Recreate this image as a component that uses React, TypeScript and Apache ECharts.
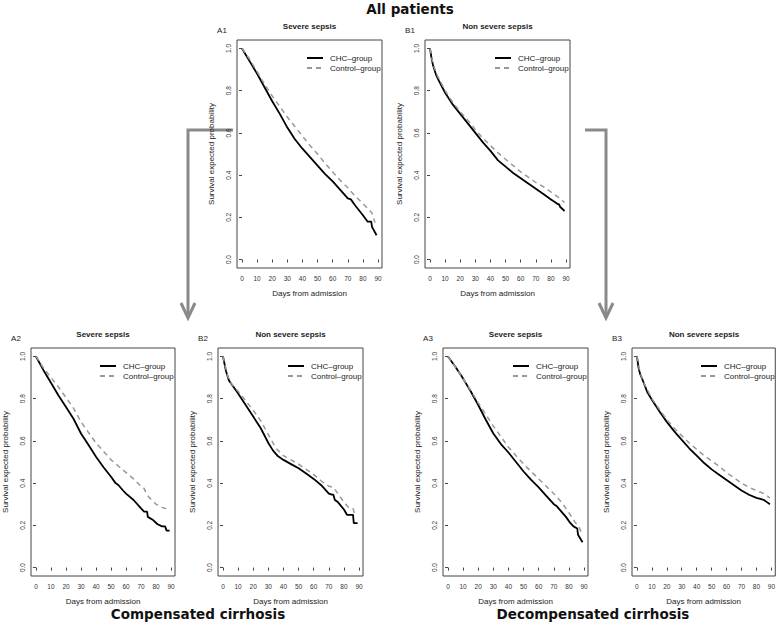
import React, { useEffect, useRef } from "react";
import * as echarts from "echarts";

// ---------- Data ----------
const xTicks = [0, 10, 20, 30, 40, 50, 60, 70, 80, 90];
const yTicks = [0, 0.2, 0.4, 0.6, 0.8, 1.0];
const seriesNames = ["CHC–group", "Control–group"];

// A1: All patients, severe sepsis
const a1ChcDays = [0, 5, 10, 15, 20, 25, 30, 35, 40, 45, 50, 55, 60, 65, 70, 72, 75, 80, 83, 85.5, 86, 89];
const a1ChcVals = [1.0, 0.94, 0.88, 0.815, 0.75, 0.69, 0.625, 0.57, 0.525, 0.485, 0.445, 0.405, 0.37, 0.33, 0.29, 0.285, 0.255, 0.21, 0.18, 0.18, 0.155, 0.115];
const a1CtrlDays = [0, 5, 10, 15, 20, 25, 30, 35, 40, 45, 50, 55, 60, 65, 70, 75, 80, 84, 86, 88];
const a1CtrlVals = [1.0, 0.95, 0.89, 0.83, 0.775, 0.725, 0.675, 0.63, 0.585, 0.54, 0.5, 0.455, 0.415, 0.375, 0.34, 0.3, 0.265, 0.235, 0.22, 0.175];

// B1: All patients, non severe sepsis
const b1ChcDays = [0, 1, 2, 4, 6, 10, 15, 20, 25, 30, 35, 40, 45, 50, 55, 60, 65, 70, 75, 80, 84, 85.5, 86, 89];
const b1ChcVals = [1.0, 0.955, 0.92, 0.875, 0.845, 0.79, 0.735, 0.69, 0.645, 0.6, 0.555, 0.515, 0.47, 0.44, 0.41, 0.385, 0.36, 0.335, 0.31, 0.285, 0.265, 0.26, 0.25, 0.23];
const b1CtrlDays = [0, 2, 5, 10, 15, 20, 25, 30, 35, 40, 45, 50, 55, 60, 65, 70, 75, 80, 85, 89];
const b1CtrlVals = [1.0, 0.925, 0.87, 0.8, 0.745, 0.7, 0.66, 0.615, 0.575, 0.54, 0.505, 0.475, 0.445, 0.415, 0.39, 0.365, 0.345, 0.32, 0.295, 0.27];

// A2: Compensated cirrhosis, severe sepsis
const a2ChcDays = [0, 5, 10, 15, 20, 25, 30, 35, 40, 45, 50, 53, 55, 58, 60, 65, 70, 72, 74, 74.5, 78, 81, 84, 86, 87, 89];
const a2ChcVals = [1.0, 0.935, 0.875, 0.815, 0.76, 0.705, 0.635, 0.58, 0.525, 0.475, 0.43, 0.4, 0.39, 0.365, 0.35, 0.32, 0.28, 0.265, 0.265, 0.24, 0.225, 0.205, 0.195, 0.195, 0.175, 0.175];
const a2CtrlDays = [0, 5, 10, 15, 20, 25, 30, 35, 40, 45, 50, 55, 60, 65, 70, 72, 73, 75, 80, 84, 88];
const a2CtrlVals = [1.0, 0.945, 0.9, 0.855, 0.805, 0.755, 0.69, 0.64, 0.59, 0.55, 0.51, 0.48, 0.45, 0.42, 0.385, 0.375, 0.36, 0.335, 0.3, 0.285, 0.275];

// B2: Compensated cirrhosis, non severe sepsis
const b2ChcDays = [0, 2, 4, 7, 10, 15, 20, 25, 30, 33, 36, 40, 45, 50, 55, 60, 65, 70, 72, 73, 74, 76, 80, 82, 86, 86.5, 89];
const b2ChcVals = [1.0, 0.93, 0.885, 0.855, 0.825, 0.77, 0.715, 0.66, 0.59, 0.555, 0.53, 0.51, 0.49, 0.47, 0.445, 0.42, 0.39, 0.35, 0.345, 0.345, 0.32, 0.31, 0.275, 0.25, 0.25, 0.21, 0.21];
const b2CtrlDays = [0, 3, 5, 10, 15, 20, 25, 30, 35, 40, 45, 50, 55, 60, 65, 70, 73, 76, 80, 83, 86, 87];
const b2CtrlVals = [1.0, 0.91, 0.875, 0.835, 0.79, 0.745, 0.695, 0.63, 0.565, 0.53, 0.51, 0.49, 0.465, 0.44, 0.41, 0.385, 0.38, 0.35, 0.31, 0.285, 0.28, 0.255];

// A3: Decompensated cirrhosis, severe sepsis
const a3ChcDays = [0, 5, 10, 15, 20, 25, 30, 35, 40, 45, 50, 55, 60, 65, 70, 72, 75, 78, 81, 83, 85.5, 86, 89];
const a3ChcVals = [1.0, 0.95, 0.895, 0.835, 0.77, 0.7, 0.635, 0.585, 0.545, 0.5, 0.455, 0.415, 0.38, 0.34, 0.3, 0.29, 0.265, 0.24, 0.21, 0.195, 0.185, 0.155, 0.12];
const a3CtrlDays = [0, 5, 10, 15, 20, 25, 30, 35, 40, 45, 50, 55, 60, 65, 70, 75, 80, 84, 86, 88, 89];
const a3CtrlVals = [1.0, 0.95, 0.895, 0.84, 0.78, 0.725, 0.67, 0.62, 0.57, 0.53, 0.49, 0.455, 0.42, 0.385, 0.35, 0.31, 0.26, 0.215, 0.2, 0.17, 0.16];

// B3: Decompensated cirrhosis, non severe sepsis
const b3ChcDays = [0, 1, 2, 4, 7, 10, 15, 20, 25, 30, 35, 40, 45, 50, 55, 60, 65, 70, 75, 80, 85, 87, 89];
const b3ChcVals = [1.0, 0.95, 0.92, 0.885, 0.83, 0.795, 0.74, 0.69, 0.645, 0.605, 0.565, 0.53, 0.495, 0.465, 0.44, 0.415, 0.39, 0.365, 0.345, 0.33, 0.32, 0.31, 0.3];
const b3CtrlDays = [0, 2, 5, 10, 15, 20, 25, 30, 35, 40, 45, 50, 55, 60, 65, 70, 75, 80, 85, 89];
const b3CtrlVals = [1.0, 0.925, 0.87, 0.8, 0.75, 0.7, 0.66, 0.625, 0.59, 0.56, 0.53, 0.505, 0.48, 0.45, 0.425, 0.4, 0.38, 0.365, 0.35, 0.33];

// ---------- Layout ----------
const panels = [
  { tag: "A1", title: "Severe sepsis", left: 237, top: 40, width: 145, chc: [a1ChcDays, a1ChcVals], ctrl: [a1CtrlDays, a1CtrlVals] },
  { tag: "B1", title: "Non severe sepsis", left: 425, top: 40, width: 145, chc: [b1ChcDays, b1ChcVals], ctrl: [b1CtrlDays, b1CtrlVals] },
  { tag: "A2", title: "Severe sepsis", left: 31, top: 348, width: 144, chc: [a2ChcDays, a2ChcVals], ctrl: [a2CtrlDays, a2CtrlVals] },
  { tag: "B2", title: "Non severe sepsis", left: 218, top: 348, width: 145, chc: [b2ChcDays, b2ChcVals], ctrl: [b2CtrlDays, b2CtrlVals] },
  { tag: "A3", title: "Severe sepsis", left: 443, top: 348, width: 145, chc: [a3ChcDays, a3ChcVals], ctrl: [a3CtrlDays, a3CtrlVals] },
  { tag: "B3", title: "Non severe sepsis", left: 632, top: 348, width: 144, chc: [b3ChcDays, b3ChcVals], ctrl: [b3CtrlDays, b3CtrlVals] },
];
const PANEL_H = 228;
const SANS = "'Liberation Sans', Arial, Helvetica, sans-serif";
const BOLD_FONT = "'DejaVu Sans', Verdana, sans-serif";

const zip = (xs: number[], ys: number[]) => xs.map((x, i) => [x, ys[i]]);

export default function App() {
  const ref = useRef<HTMLDivElement>(null);

  useEffect(() => {
    document.body.style.margin = "0";
    if (!ref.current) return;
    const chart = echarts.init(ref.current, undefined, { renderer: "svg" });

    const grid: any[] = [];
    const xAxis: any[] = [];
    const yAxis: any[] = [];
    const series: any[] = [];
    const legend: any[] = [];
    const graphic: any[] = [];

    panels.forEach((p, i) => {
      grid.push({
        left: p.left,
        top: p.top,
        width: p.width,
        height: PANEL_H,
        show: true,
        borderColor: "#444",
        borderWidth: 1,
        backgroundColor: "transparent",
        containLabel: false,
      });
      xAxis.push({
        gridIndex: i,
        type: "value",
        min: -3.3,
        max: 92.6,
        splitLine: { show: false },
        axisLine: { show: false },
        axisTick: { show: true, length: 3, customValues: xTicks, lineStyle: { color: "#444" } },
        axisLabel: { customValues: xTicks, fontSize: 6.5, margin: 7, color: "#333", fontFamily: SANS },
        name: "Days from admission",
        nameLocation: "middle",
        nameGap: 21,
        nameTextStyle: { fontSize: 8, color: "#222", fontFamily: SANS },
      });
      yAxis.push({
        gridIndex: i,
        type: "value",
        min: -0.04,
        max: 1.04,
        splitLine: { show: false },
        axisLine: { show: false },
        axisTick: { show: true, length: 3, customValues: yTicks, lineStyle: { color: "#444" } },
        axisLabel: {
          customValues: yTicks,
          rotate: 90,
          fontSize: 6.5,
          margin: 5,
          color: "#333",
          fontFamily: SANS,
          formatter: (v: number) => v.toFixed(1),
        },
        name: "Survival expected probability",
        nameLocation: "middle",
        nameGap: 22,
        nameTextStyle: { fontSize: 8, color: "#222", fontFamily: SANS },
      });
      series.push({
        type: "line",
        name: seriesNames[0],
        xAxisIndex: i,
        yAxisIndex: i,
        data: zip(p.chc[0], p.chc[1]),
        symbol: "none",
        lineStyle: { color: "#000", width: 1.8 },
        itemStyle: { color: "#000" },
      });
      series.push({
        type: "line",
        name: seriesNames[1],
        xAxisIndex: i,
        yAxisIndex: i,
        data: zip(p.ctrl[0], p.ctrl[1]),
        symbol: "none",
        lineStyle: { color: "#999", width: 1.5, type: [5, 4] },
        itemStyle: { color: "#999" },
      });
      legend.push({
        data: seriesNames,
        orient: "vertical",
        left: p.left + p.width - 76,
        top: p.top + 14,
        itemWidth: 16,
        itemHeight: 8,
        itemGap: 2,
        padding: 0,
        selectedMode: false,
        itemStyle: { opacity: 0 },
        textStyle: { fontSize: 8, color: "#222", fontFamily: SANS, padding: [0, 0, 0, 2] },
      });
      graphic.push({
        type: "text",
        x: p.left + p.width / 2,
        y: p.top - 14,
        style: {
          text: p.title,
          fontSize: 8,
          fontWeight: "bold",
          fontFamily: SANS,
          fill: "#222",
          align: "center",
          verticalAlign: "middle",
        },
      });
      graphic.push({
        type: "text",
        x: p.left - 15,
        y: p.top - 10,
        style: {
          text: p.tag,
          fontSize: 8,
          fontFamily: SANS,
          fill: "#222",
          align: "center",
          verticalAlign: "middle",
        },
      });
    });

    const arrowStyle = { stroke: "#8a8a8a", lineWidth: 3, fill: "none" };
    graphic.push(
      { type: "polyline", shape: { points: [[233, 130], [188, 130], [188, 316]] }, style: arrowStyle },
      { type: "polyline", shape: { points: [[181, 303], [188, 318], [195, 303]] }, style: arrowStyle },
      { type: "polyline", shape: { points: [[585, 130], [606, 130], [606, 316]] }, style: arrowStyle },
      { type: "polyline", shape: { points: [[599, 303], [606, 318], [613, 303]] }, style: arrowStyle },
      {
        type: "text",
        x: 410,
        y: 9,
        style: { text: "All patients", fontSize: 13.5, fontWeight: "bold", fontFamily: BOLD_FONT, fill: "#111", align: "center", verticalAlign: "middle" },
      },
      {
        type: "text",
        x: 198,
        y: 614,
        style: { text: "Compensated cirrhosis", fontSize: 13.5, fontWeight: "bold", fontFamily: BOLD_FONT, fill: "#111", align: "center", verticalAlign: "middle" },
      },
      {
        type: "text",
        x: 593,
        y: 614,
        style: { text: "Decompensated cirrhosis", fontSize: 13.5, fontWeight: "bold", fontFamily: BOLD_FONT, fill: "#111", align: "center", verticalAlign: "middle" },
      }
    );

    chart.setOption({
      animation: false,
      backgroundColor: "#fff",
      grid,
      xAxis,
      yAxis,
      series,
      legend,
      graphic,
    });

    return () => chart.dispose();
  }, []);

  return <div ref={ref} style={{ width: 778, height: 626 }} />;
}
